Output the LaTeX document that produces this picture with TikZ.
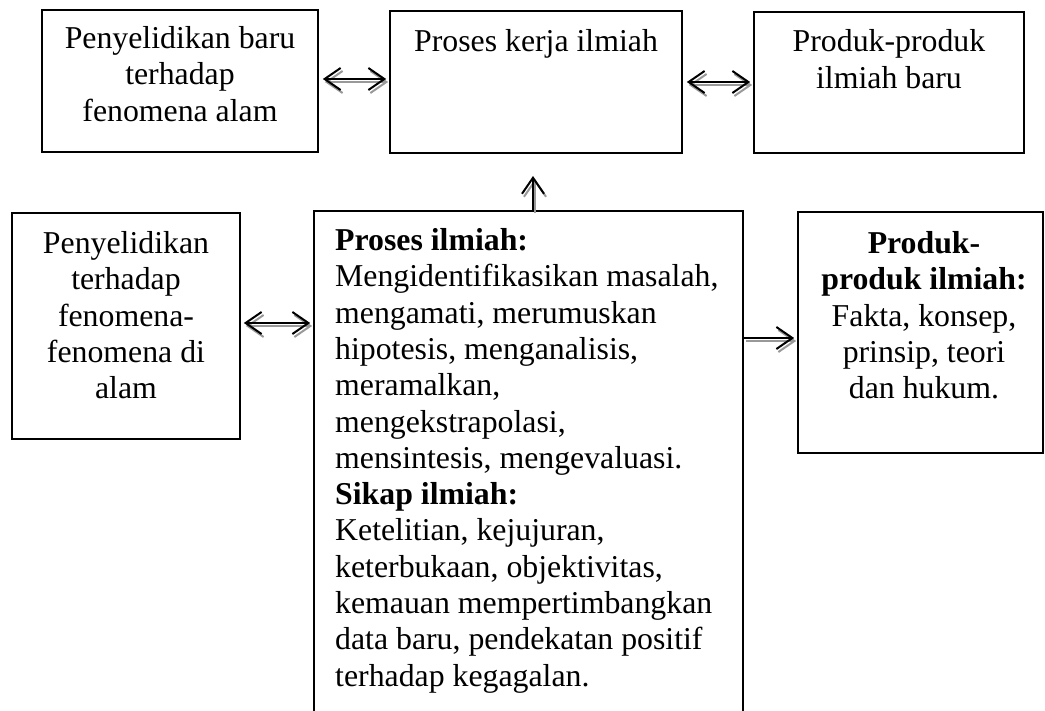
\documentclass[tikz,border=0pt]{standalone}
\usepackage{fontspec}
\setmainfont{Liberation Serif}
\usetikzlibrary{arrows.meta}
\begin{document}
\begin{tikzpicture}[x=1pt,y=-1pt,
  box/.style={draw, line width=1.7pt, rectangle, inner sep=0pt},
  txt/.style={inner sep=0pt, font=\fontsize{31.8}{36.3}\selectfont},
  conn/.style={line width=2pt},
  dbl/.style={conn, {Straight Barb[length=16pt,width=22pt]}-{Straight Barb[length=16pt,width=22pt]}},
  sgl/.style={conn, -{Straight Barb[length=16pt,width=22pt]}},
  shadowed/.style={draw=black!40, transform canvas={xshift=2pt,yshift=-3pt}}]
\useasboundingbox (0,0) rectangle (1045,711);
\clip (0,0) rectangle (1045,711);

% boxes
\node[box, minimum width=276pt, minimum height=142pt] (A) at (180,81) {};
\node[box, minimum width=292pt, minimum height=142pt] (B) at (536,82) {};
\node[box, minimum width=270pt, minimum height=141pt] (C) at (889,82.5) {};
\node[box, minimum width=228pt, minimum height=226pt] (D) at (126,326) {};
\node[box, minimum width=429pt, minimum height=529pt] (E) at (528.5,475.5) {};
\node[box, minimum width=245pt, minimum height=241pt] (F) at (920.5,332.5) {};

% texts
\node[txt, align=center, anchor=north] (tA) at (180,26.3) {Penyelidikan baru\\terhadap\\fenomena alam};
\node[txt, align=center, anchor=north] (tB) at (536,29.5) {Proses kerja ilmiah};
\node[txt, align=center, anchor=north] (tC) at (889,29.5) {Produk-produk\\ilmiah baru};
\node[txt, align=center, anchor=north] (tD) at (126,231.3) {Penyelidikan\\terhadap\\fenomena-\\fenomena di\\alam};
\node[txt, align=left, anchor=north west] (tE) at (335,228.3) {\textbf{Proses ilmiah:}\\Mengidentifikasikan masalah,\\mengamati, merumuskan\\hipotesis, menganalisis,\\meramalkan,\\mengekstrapolasi,\\mensintesis, mengevaluasi.\\\textbf{Sikap ilmiah:}\\Ketelitian, kejujuran,\\keterbukaan, objektivitas,\\kemauan mempertimbangkan\\data baru, pendekatan positif\\terhadap kegagalan.};
\node[txt, align=center, anchor=north] (tF) at (924,231.3) {\textbf{Produk-}\\\textbf{produk ilmiah:}\\Fakta, konsep,\\prinsip, teori\\dan hukum.};

% connector levels
\coordinate (yAB) at (0,79);
\coordinate (yBC) at (0,82);
\coordinate (yDE) at (0,323);
\coordinate (yEF) at (0,338);
\coordinate (up) at (533,176);

% shadows
\draw[dbl, shadowed, shorten <=4pt, shorten >=3pt] (A.east |- yAB) -- (B.west |- yAB);
\draw[dbl, shadowed, shorten <=4pt, shorten >=3pt] (B.east |- yBC) -- (C.west |- yBC);
\draw[dbl, shadowed, shorten <=3pt, shorten >=3pt] (D.east |- yDE) -- (E.west |- yDE);
\draw[sgl, shadowed, shorten >=3pt] (E.east |- yEF) -- (F.west |- yEF);
\draw[sgl, shadowed] (E.north -| up) -- (up);

% connectors
\draw[dbl, shorten <=4pt, shorten >=3pt] (A.east |- yAB) -- (B.west |- yAB);
\draw[dbl, shorten <=4pt, shorten >=3pt] (B.east |- yBC) -- (C.west |- yBC);
\draw[dbl, shorten <=3pt, shorten >=3pt] (D.east |- yDE) -- (E.west |- yDE);
\draw[sgl, shorten >=3pt] (E.east |- yEF) -- (F.west |- yEF);
\draw[sgl] (E.north -| up) -- (up);
\end{tikzpicture}
\end{document}
